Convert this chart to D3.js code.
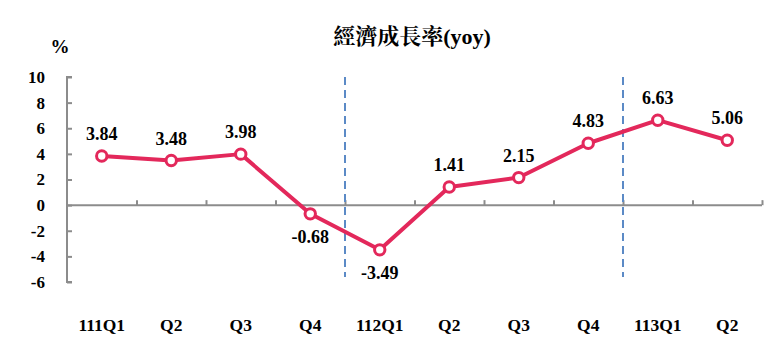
<!DOCTYPE html>
<html><head><meta charset="utf-8">
<script src="https://cdn.jsdelivr.net/npm/d3@7"></script>
<style>body{margin:0;background:#fff}svg{display:block}</style>
</head><body>
<svg id="c" width="782" height="358"></svg>
<script>
const categories = ["111Q1","Q2","Q3","Q4","112Q1","Q2","Q3","Q4","113Q1","Q2"];
const values = [3.84,3.48,3.98,-0.68,-3.49,1.41,2.15,4.83,6.63,5.06];
const yTicks = [10,8,6,4,2,0,-2,-4,-6];
const dividers = [4, 8]; // indexes of categories before which a dashed divider is drawn
const title = "經濟成長率(yoy)";
const unit = "%";

const svg = d3.select("#c");
const serif = "'Liberation Serif','Times New Roman',serif";
const x = d3.scaleBand().domain(d3.range(categories.length)).range([67, 762]).padding(0);
const y = d3.scaleLinear().domain([-6, 10]).range([282, 77]);

// y axis
const yAxis = d3.axisRight(y).tickValues(yTicks).tickSize(5).tickFormat("");
const gy = svg.append("g").attr("transform","translate(67,0)").call(yAxis);
gy.select(".domain").attr("stroke","#8c8c8c").attr("stroke-width",2).attr("d","M5,77H0V282H5");
gy.selectAll(".tick line").attr("stroke","#8c8c8c").attr("stroke-width",2);

svg.append("g").selectAll("text").data(yTicks).join("text")
  .attr("x",45).attr("y",d=>y(d)).attr("dy","0.35em").attr("text-anchor","end")
  .attr("font-family",serif).attr("font-weight","bold").attr("font-size",17).text(d=>d);

// x axis at zero
const xAxis = d3.axisTop(d3.scaleLinear().domain([0,categories.length]).range([67,762]))
  .tickValues(d3.range(1,categories.length+1)).tickSize(5).tickFormat("");
const gx = svg.append("g").attr("transform",`translate(0,${y(0)})`).call(xAxis);
gx.select(".domain").attr("stroke","#8c8c8c").attr("stroke-width",2).attr("d","M67,0H762");
gx.selectAll(".tick line").attr("stroke","#8c8c8c").attr("stroke-width",2);

// x labels
svg.append("g").selectAll("text").data(categories).join("text")
  .attr("x",(d,i)=>x(i)+x.bandwidth()/2).attr("y",331).attr("text-anchor","middle")
  .attr("font-family",serif).attr("font-weight","bold").attr("font-size",17.5).text(d=>d);

// dividers
svg.append("g").selectAll("line").data(dividers).join("line")
  .attr("x1",d=>x(d)).attr("x2",d=>x(d)).attr("y1",77).attr("y2",277)
  .attr("stroke","#5b8ac6").attr("stroke-width",2).attr("stroke-dasharray","8,5");

// line
const cx = i => x(i)+x.bandwidth()/2;
svg.append("path").datum(values)
  .attr("d", d3.line().x((d,i)=>cx(i)).y(d=>y(d)))
  .attr("fill","none").attr("stroke","#e3285b").attr("stroke-width",4).attr("stroke-linejoin","round");

svg.append("g").selectAll("circle").data(values).join("circle")
  .attr("cx",(d,i)=>cx(i)).attr("cy",d=>y(d)).attr("r",5.2)
  .attr("fill","#fff").attr("stroke","#e3285b").attr("stroke-width",3);

// value labels
svg.append("g").selectAll("text").data(values).join("text")
  .attr("x",(d,i)=>cx(i)).attr("y",d=> d<0 ? y(d)+29 : y(d)-16)
  .attr("text-anchor","middle")
  .attr("font-family",serif).attr("font-weight","bold").attr("font-size",18).text(d=>d.toFixed(2));

// unit
svg.append("text").attr("x",60).attr("y",53).attr("text-anchor","middle")
  .attr("font-family",serif).attr("font-weight","bold").attr("font-size",19).text(unit);

// title
svg.append("text").attr("x",412).attr("y",44).attr("text-anchor","middle")
  .attr("font-family","'Liberation Serif','Noto Serif CJK TC','Noto Sans CJK TC',serif")
  .attr("font-weight","bold").attr("font-size",22).text(title);
</script>
</body></html>
